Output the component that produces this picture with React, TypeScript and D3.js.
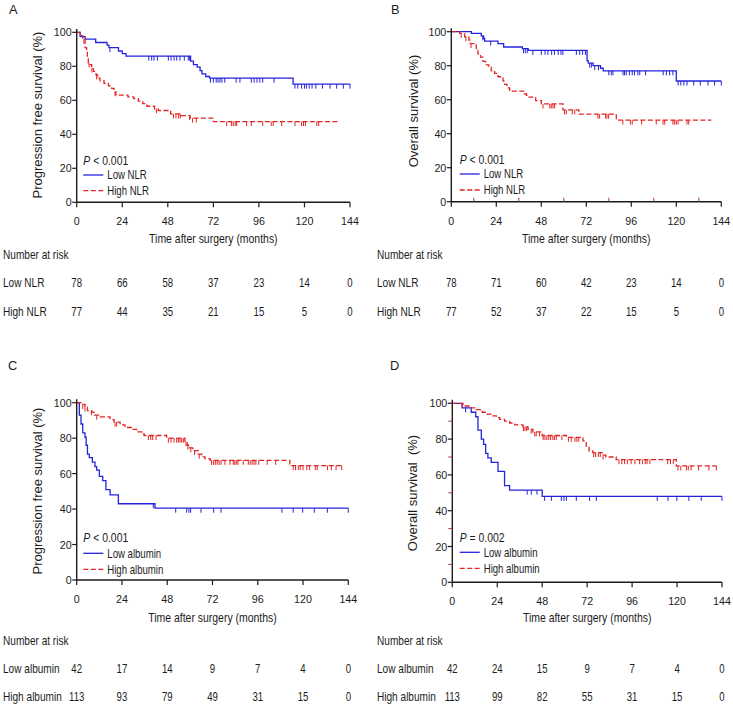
import React from "react";
import * as d3 from "d3";

// ---------- DATA ----------
const timeTicks = [0, 24, 48, 72, 96, 120, 144];
const survTicks = [0, 20, 40, 60, 80, 100];

// Panel A: PFS by NLR
const aLowSteps = [[1.8,97.5],[4.4,96],[10,94],[16,92.5],[17,91],[22,89],[24,87.5],[26,86],[60,83],[61.5,81],[63.5,79.5],[65,77.5],[66,75.5],[68,74],[70,73],[114,69.5]];
const aLowCens = [17.5,38,39.5,40.7,42.5,48.3,49.7,51.3,52.7,54.4,56.7,58.8,59.5,70.5,72,73.5,74.5,75.5,76.5,78,84,86,92,93.5,95,96.5,98,104,115,116.5,118.5,120,121,122.5,124,126,129.5,133.5,137,140.5,144];
const aLowEnd = 144;
const aHighSteps = [[1.8,98],[3.2,96],[4.4,91],[5.2,89],[5.6,85],[6.1,82],[7,81],[7.9,79],[8.8,77],[10.2,75],[11,73],[12.3,71.5],[14.4,70],[16.7,68.5],[18.4,67],[19.7,65],[20.7,63],[27,62],[30,61],[32.5,59.5],[34.8,58],[37,56.5],[41,55],[43,54],[49.5,52],[55,51],[59.7,49.5],[72,47.5]];
const aHighCens = [3.8,6.5,8,10.5,20.2,42,51,52.3,53.7,54.6,59.5,61,63,79,81.5,82.5,83.5,84.3,89.5,92,98,102.5,103.5,108,115,118.5,119.5,120.5,126.5,127.5];
const aHighEnd = 138;
const aRiskLow = [78, 66, 58, 37, 23, 14, 0];
const aRiskHigh = [77, 44, 35, 21, 15, 5, 0];

// Panel B: OS by NLR
const bLowSteps = [[10.7,99],[16,97.5],[17.2,96],[17.8,94.5],[24.9,93],[27.9,91],[37.9,90],[41,89],[72.4,83],[73,81.5],[75.6,80],[79.6,78.5],[81,77],[120,71]];
const bLowCens = [16.8,21,38.5,39.5,40.5,43.5,48,50,51.5,53.5,55,57,58.5,59.5,66.7,68.5,70,71.5,73.8,74.7,76.5,78.5,84,85.3,86.2,91.6,92.4,93.3,95,96.5,97.7,99.5,100.5,103.6,113,114.7,116.4,118.2,121,122.4,124,125.7,129.3,132.8,136.9,140.4,144];
const bLowEnd = 144;
const bHighSteps = [[4.4,99],[7.1,97],[9.4,95],[10.1,93],[13.3,89],[14.2,87],[15.6,85],[16.9,82.5],[18.3,80.5],[20,79],[21.3,77],[23.1,75.5],[24.9,73.5],[27.6,71],[28.4,69],[29.7,67],[31.1,65],[39,63.5],[40,62.5],[41,61.5],[45,59.5],[48,57.5],[59.6,54],[68,51.5],[88,48]];
const bHighCens = [5.3,7.8,10.5,48.9,52.5,53.3,54.2,55.1,60.4,61.3,64.5,65.8,78.2,79.1,82.3,83,83.9,91.5,95.5,96.5,101.5,109.3,112.9,113.8,118.2,119.1,120,120.9,125.7,126.6];
const bHighEnd = 138.7;
const bRiskLow = [78, 71, 60, 42, 23, 14, 0];
const bRiskHigh = [77, 52, 37, 22, 15, 5, 0];

// Panel C: PFS by albumin
const cLowSteps = [[1.4,93],[2.3,88],[3.2,83],[4.4,80.5],[5,76],[5.7,71],[6.7,69],[8.3,66.5],[9.7,64],[10.6,62],[12,58.5],[13.8,56],[15.5,51],[17.7,48],[22.1,43],[41.5,40.5]];
const cLowCens = [40.6,52.5,58.3,59.5,60.4,65.9,72.6,76.5,108.8,114.8,119.8,126,132.9,144];
const cLowEnd = 144;
const cHighSteps = [[2.3,99],[4.4,97.5],[5.7,95.5],[8,94.5],[9.4,93],[12.4,92],[17.7,90.5],[19.8,89],[23,87.5],[25.6,86],[29,85],[31.8,83.5],[34.5,82.5],[35.7,81.5],[47.7,80],[57.4,78],[58.6,76],[60,74.5],[61.5,73],[64.5,71],[66.3,69.5],[68,68.5],[70.7,67.5],[113,64.5]];
const cHighCens = [3.2,4.4,7.8,10.6,20.3,21.2,38,39.3,40.3,42.1,48.6,50,51.6,53,53.9,54.8,55.7,56.5,58,59,60.5,62.5,65,71.5,72.5,73.5,74.5,75.5,76.5,78.6,81.3,83,83.8,84.6,85.5,88.3,91,92,93,94,95,96.5,101,105.5,114.8,116,117.5,118.5,120,122,123.5,126.5,127.5,133,135,137.5,140.5];
const cHighEnd = 140.5;
const cRiskLow = [42, 17, 14, 9, 7, 4, 0];
const cRiskHigh = [113, 93, 79, 49, 31, 15, 0];

// Panel D: OS by albumin
const dLowSteps = [[5.3,97.5],[10.1,95],[12.5,92.5],[13.7,85],[15.5,80],[16.7,77],[17.8,72],[19,69.5],[20.8,67],[24.4,62],[27.9,54],[30.6,51.5],[48,48]];
const dLowCens = [7.1,40,42.2,45.2,49.3,52.9,58.2,59.6,60.9,66.2,73.3,76.9,109.4,115.2,119.9,126.3,132.9,144];
const dLowEnd = 144;
const dHighSteps = [[5.7,98.5],[9.6,97.5],[12.8,96.5],[16,95],[18,94],[20.8,93],[23.5,92],[25.3,91],[27.9,90],[30.6,89],[33.3,88],[37.7,87],[40.4,85.5],[43,84],[48,82],[60.9,81],[69.8,79],[71.5,76],[73,73.5],[75,72.5],[80,71],[82,70],[87.5,68.5],[119.6,65]];
const dHighCens = [5.2,38,38.8,39.7,42.1,44,44.8,46.6,48.5,49.5,50.5,51.5,52.5,53.7,54.5,55.5,58.5,62,63.5,65.5,66.5,67.5,75.5,76.5,78,79,80.5,89,90.5,92,93.5,95.5,97.5,100,101.5,103,104,105.5,115,116.5,118,120.5,122,125,126,127.5,131.5,137,141];
const dHighEnd = 141;
const dRiskLow = [42, 24, 15, 9, 7, 4, 0];
const dRiskHigh = [113, 99, 82, 55, 31, 15, 0];

// ---------- STYLE / LAYOUT ----------
const FONT = "'Liberation Sans', Arial, Helvetica, sans-serif";
const BLUE = "#2424dc";
const RED = "#e42424";
const MINOR = "#a33a3a";
const INK = "#1c1c1c";

type Steps = number[][];
interface Panel {
  letter: string; lx: number; ly: number;
  x0: number; x1: number; yTop: number; yBot: number;
  yTitle: string; ytx: number; yty: number;
  pText: string; pX: number; pY: number;
  legX: number; legLowY: number; legHighY: number;
  lowName: string; highName: string;
  low: Steps; lowC: number[]; lowEnd: number;
  high: Steps; highC: number[]; highEnd: number;
  riskLow: number[]; riskHigh: number[];
  tx: number; titleY: number; narY: number; lowY: number; highY: number;
  minorX?: boolean; minorY?: boolean;
}

const panels: Panel[] = [
  { letter: "A", lx: 9, ly: 13.5, x0: 76.7, x1: 350, yTop: 32.3, yBot: 202.3,
    yTitle: "Progression free survival (%)", ytx: 41.5, yty: 115,
    pText: "< 0.001", pX: 83.3, pY: 165, legX: 83.3, legLowY: 175, legHighY: 190.7,
    lowName: "Low NLR", highName: "High NLR",
    low: aLowSteps, lowC: aLowCens, lowEnd: aLowEnd, high: aHighSteps, highC: aHighCens, highEnd: aHighEnd,
    riskLow: aRiskLow, riskHigh: aRiskHigh, tx: 3, titleY: 243, narY: 259, lowY: 287, highY: 316 },
  { letter: "B", lx: 391, ly: 13.5, x0: 451.3, x1: 721.3, yTop: 31.7, yBot: 201.7,
    yTitle: "Overall survival (%)", ytx: 417.5, yty: 111,
    pText: "< 0.001", pX: 459.7, pY: 164.3, legX: 459.7, legLowY: 174, legHighY: 190,
    lowName: "Low NLR", highName: "High NLR",
    low: bLowSteps, lowC: bLowCens, lowEnd: bLowEnd, high: bHighSteps, highC: bHighCens, highEnd: bHighEnd,
    riskLow: bRiskLow, riskHigh: bRiskHigh, tx: 377, titleY: 243, narY: 259, lowY: 286.7, highY: 316, minorX: true },
  { letter: "C", lx: 8, ly: 370, x0: 76.7, x1: 348.3, yTop: 402.7, yBot: 580,
    yTitle: "Progression free survival (%)", ytx: 41.5, yty: 491,
    pText: "< 0.001", pX: 83.3, pY: 542.3, legX: 83.3, legLowY: 553.3, legHighY: 569.3,
    lowName: "Low albumin", highName: "High albumin",
    low: cLowSteps, lowC: cLowCens, lowEnd: cLowEnd, high: cHighSteps, highC: cHighCens, highEnd: cHighEnd,
    riskLow: cRiskLow, riskHigh: cRiskHigh, tx: 3, titleY: 622, narY: 645, lowY: 672.5, highY: 701 },
  { letter: "D", lx: 390, ly: 370, x0: 452.3, x1: 722, yTop: 403.3, yBot: 582.3,
    yTitle: "Overall survival  (%)", ytx: 416.5, yty: 493,
    pText: "= 0.002", pX: 459.7, pY: 541.7, legX: 459.7, legLowY: 552.3, legHighY: 568.3,
    lowName: "Low albumin", highName: "High albumin",
    low: dLowSteps, lowC: dLowCens, lowEnd: dLowEnd, high: dHighSteps, highC: dHighCens, highEnd: dHighEnd,
    riskLow: dRiskLow, riskHigh: dRiskHigh, tx: 377, titleY: 622, narY: 645, lowY: 672.5, highY: 701, minorY: true },
];

function T(props: { x: number; y: number; s?: number; sx?: number; anchor?: string; children: any; italic?: boolean }) {
  const { x, y, s = 12, sx = 0.85, anchor = "start", children } = props;
  return (
    <text transform={`translate(${x},${y}) scale(${sx},1)`} fontSize={s} textAnchor={anchor as any}
      fill={INK} fontFamily={FONT} fontStyle={props.italic ? "italic" : "normal"}>
      {children}
    </text>
  );
}

function valueAt(steps: Steps, t: number) {
  let v = 100;
  for (const [st, sv] of steps) { if (st <= t) v = sv; else break; }
  return v;
}

function Curve({ steps, cens, end, x, y, color, dashed }: any) {
  const pts: [number, number][] = [[0, 100], ...steps.map((s: number[]) => [s[0], s[1]] as [number, number]), [end, steps[steps.length - 1][1]]];
  const line = d3.line<[number, number]>().x(d => x(d[0])).y(d => y(d[1])).curve(d3.curveStepAfter);
  return (
    <g>
      <path d={line(pts) || ""} fill="none" stroke={color} strokeWidth={1.3}
        strokeDasharray={dashed ? "5,2.5" : undefined} />
      {cens.map((t: number, i: number) => {
        const v = valueAt(steps, t);
        return <line key={i} x1={x(t)} x2={x(t)} y1={y(v)} y2={y(v) + 4.5} stroke={color} strokeWidth={1} />;
      })}
    </g>
  );
}

function PanelView({ p }: { p: Panel }) {
  const x = d3.scaleLinear().domain([0, 144]).range([p.x0, p.x1]);
  const y = d3.scaleLinear().domain([0, 100]).range([p.yBot, p.yTop]);
  const midX = (p.x0 + p.x1) / 2;
  return (
    <g>
      <T x={p.lx} y={p.ly} s={13.5} sx={0.95}>{p.letter}</T>
      {/* curves */}
      <Curve steps={p.low} cens={p.lowC} end={p.lowEnd} x={x} y={y} color={BLUE} />
      <Curve steps={p.high} cens={p.highC} end={p.highEnd} x={x} y={y} color={RED} dashed />
      {/* axes */}
      <line x1={p.x0} x2={p.x0} y1={p.yBot} y2={y(102)} stroke={INK} strokeWidth={1.4} />
      <line x1={p.x0} x2={p.x1} y1={p.yBot} y2={p.yBot} stroke={INK} strokeWidth={1.4} />
      {survTicks.map(v => (
        <g key={"y" + v}>
          <line x1={p.x0 - 4.5} x2={p.x0} y1={y(v)} y2={y(v)} stroke={INK} strokeWidth={1.2} />
          <T x={p.x0 - 5} y={y(v) + 4} s={11.5} sx={0.93} anchor="end">{v}</T>
        </g>
      ))}
      {timeTicks.map(t => (
        <g key={"x" + t}>
          <line x1={x(t)} x2={x(t)} y1={p.yBot} y2={p.yBot + 5} stroke={INK} strokeWidth={1.2} />
          <T x={x(t)} y={p.yBot + 23} s={11.5} sx={0.93} anchor="middle">{t}</T>
        </g>
      ))}
      {p.minorX && d3.range(12, 144, 24).map(t => (
        <line key={"mx" + t} x1={x(t)} x2={x(t)} y1={p.yBot} y2={p.yBot - 4} stroke={MINOR} strokeWidth={1} />
      ))}
      {p.minorY && d3.range(10, 100, 20).map(v => (
        <line key={"my" + v} x1={p.x0 - 4} x2={p.x0} y1={y(v)} y2={y(v)} stroke={MINOR} strokeWidth={1} />
      ))}
      {/* y title */}
      <text transform={`translate(${p.ytx},${p.yty}) rotate(-90)`} textAnchor="middle" fontSize={13}
        fontFamily={FONT} fill={INK} style={{ whiteSpace: "pre" }}>{p.yTitle}</text>
      {/* legend */}
      <text transform={`translate(${p.pX},${p.pY}) scale(0.87,1)`} fontSize={12} fontFamily={FONT} fill={INK}>
        <tspan fontStyle="italic">P</tspan><tspan> {p.pText}</tspan>
      </text>
      <line x1={p.legX} x2={p.legX + 20} y1={p.legLowY} y2={p.legLowY} stroke={BLUE} strokeWidth={1.3} />
      <line x1={p.legX} x2={p.legX + 20} y1={p.legHighY} y2={p.legHighY} stroke={RED} strokeWidth={1.3} strokeDasharray="5,2.5" />
      <T x={p.legX + 24} y={p.legLowY + 4.3} s={12} sx={0.8}>{p.lowName}</T>
      <T x={p.legX + 24} y={p.legHighY + 4.3} s={12} sx={0.8}>{p.highName}</T>
      {/* x title & risk table */}
      <T x={midX} y={p.titleY} s={12.3} sx={0.85} anchor="middle">Time after surgery (months)</T>
      <T x={p.tx} y={p.narY} s={12} sx={0.84}>Number at risk</T>
      <T x={p.tx} y={p.lowY} s={12} sx={0.84}>{p.lowName}</T>
      <T x={p.tx} y={p.highY} s={12} sx={0.84}>{p.highName}</T>
      {timeTicks.map((t, i) => (
        <g key={"r" + t}>
          <T x={x(t)} y={p.lowY} s={12} sx={0.8} anchor="middle">{p.riskLow[i]}</T>
          <T x={x(t)} y={p.highY} s={12} sx={0.8} anchor="middle">{p.riskHigh[i]}</T>
        </g>
      ))}
    </g>
  );
}

export default function App() {
  return (
    <svg width={733} height={706} viewBox="0 0 733 706"
      style={{ position: "absolute", left: 0, top: 0, background: "#fff" }}>
      <rect x={0} y={0} width={733} height={706} fill="#fff" />
      {panels.map(p => <PanelView key={p.letter} p={p} />)}
    </svg>
  );
}
